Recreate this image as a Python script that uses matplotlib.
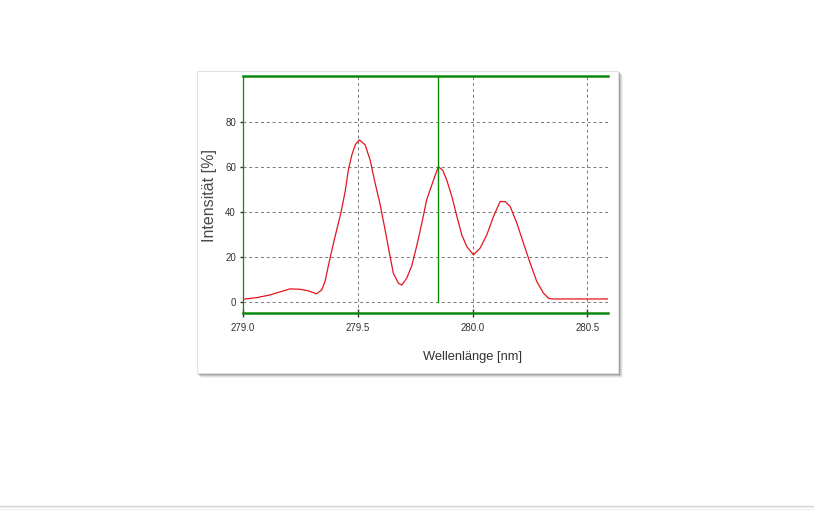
import numpy as np
import matplotlib
matplotlib.use("Agg")
import matplotlib.pyplot as plt
from matplotlib.patches import Rectangle
from matplotlib.lines import Line2D

plt.rcParams["font.family"] = ["Liberation Sans", "DejaVu Sans"]

# spectrum (wavelength nm, intensity %)
wl = [279.000, 279.060, 279.118, 279.176, 279.205, 279.248, 279.285, 279.320, 279.343, 279.357,
      279.379, 279.401, 279.426, 279.445, 279.459, 279.474, 279.490, 279.507, 279.532, 279.554,
      279.575, 279.597, 279.619, 279.641, 279.655, 279.677, 279.692, 279.713, 279.735, 279.757,
      279.779, 279.800, 279.830, 279.851, 279.870, 279.888, 279.910, 279.932, 279.953, 279.975,
      280.004, 280.033, 280.062, 280.091, 280.120, 280.142, 280.164, 280.193, 280.222, 280.251,
      280.280, 280.309, 280.331, 280.350, 280.590]
inten = [1.2, 1.9, 3.1, 4.9, 5.8, 5.6, 4.9, 3.6, 5.3, 9.0,
         19.4, 29.0, 39.4, 49.0, 58.7, 65.3, 70.0, 72.0, 69.8, 63.0,
         53.0, 43.5, 32.0, 20.0, 12.7, 8.3, 7.5, 10.5, 16.0, 25.0,
         35.0, 45.3, 54.2, 60.1, 58.5, 54.0, 46.8, 37.9, 29.8, 24.6,
         20.9, 23.9, 29.8, 37.9, 44.6, 44.6, 42.4, 35.0, 26.0, 17.2,
         9.0, 3.9, 1.6, 1.3, 1.3]
cursor_wl = 279.85
xticks = [279.0, 279.5, 280.0, 280.5]
yticks = [0, 20, 40, 60, 80]

W, H = 814, 511
fig = plt.figure(figsize=(W / 100, H / 100), dpi=100)

def box(x0, y0, x1, y1, **kw):
    # pixel box (top-left origin) -> figure fraction rectangle
    fig.add_artist(Rectangle((x0 / W, 1 - y1 / H), (x1 - x0) / W, (y1 - y0) / H,
                             transform=fig.transFigure, **kw))

# page footer strip
box(0, 506, W, H, facecolor="#f7f7f7", edgecolor="none", zorder=0)
fig.add_artist(Line2D([0, 1], [1 - 506 / H] * 2, color="#d6d6d6", lw=1.0, transform=fig.transFigure))

# panel with soft drop shadow
for i, a in enumerate([0.05, 0.08, 0.12, 0.18]):
    d = 5 - i
    box(197 + d - 1, 71 + d - 1, 618 + d, 373 + d, facecolor="black", alpha=a, edgecolor="none", zorder=0)
box(197, 71, 618, 373, facecolor="white", edgecolor="#e2e2e2", lw=0.8, zorder=0)

ax = fig.add_axes([243 / W, 1 - 312.7 / H, (608 - 243) / W, (312.7 - 76) / H])
ax.set_facecolor("none")
ax.set_xlim(279.0, 280.59)
ax.set_ylim(-4.8, 100.4)

ax.plot(wl, inten, color="#e3141e", lw=0.9, zorder=3)
ax.plot([cursor_wl, cursor_wl], [0, 100.4], color="#0a8a0a", lw=1.0, zorder=4)

ax.set_xticks(xticks)
ax.set_xticklabels([f"{v:.1f}" for v in xticks])
ax.set_yticks(yticks)
ax.grid(True, color="#777777", lw=0.7, linestyle=(0, (3, 3)))
ax.set_axisbelow(True)

ax.spines["right"].set_visible(False)
ax.spines["top"].set_color("#0a8a0a"); ax.spines["top"].set_linewidth(1.8)
ax.spines["bottom"].set_color("#0a8a0a"); ax.spines["bottom"].set_linewidth(1.8)
ax.spines["left"].set_color("#0a8a0a"); ax.spines["left"].set_linewidth(0.9)

ax.tick_params(axis="x", direction="inout", length=6, width=1, color="#333333",
               labelsize=7, labelcolor="#333333", pad=4.5)
ax.tick_params(axis="y", direction="out", length=2, width=1, color="#333333",
               labelsize=7, labelcolor="#333333", pad=3)

ax.set_xlabel("Wellenlänge [nm]", fontsize=9.3, color="#333333")
ax.set_ylabel("Intensität [%]", fontsize=11.5, color="#4a4a4a")
ax.xaxis.set_label_coords((472.5 - 243) / (608 - 243), -(351 - 312.7) / (312.7 - 76))
ax.yaxis.set_label_coords(-(243 - 217) / (608 - 243), (312.7 - 195) / (312.7 - 76))

fig.savefig("out.png", dpi=100)
